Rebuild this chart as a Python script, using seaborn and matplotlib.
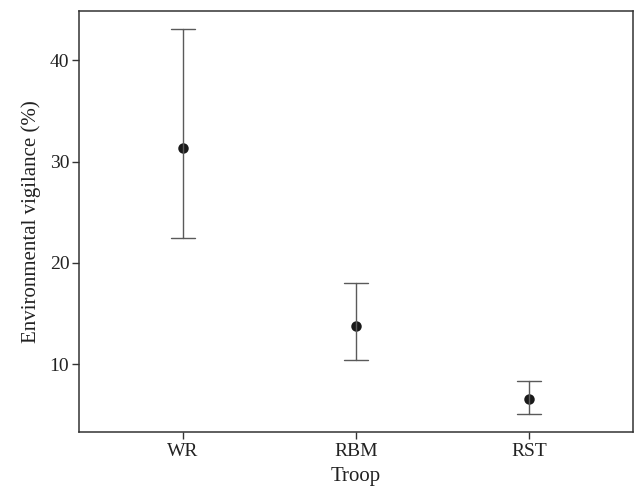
import matplotlib
matplotlib.use("Agg")
import matplotlib.pyplot as plt
import seaborn as sns
import pandas as pd

troops = ["WR", "RBM", "RST"]
means = [31.3, 13.75, 6.6]
lower = [22.5, 10.45, 5.1]
upper = [43.05, 18.0, 8.3]

rows = []
for t, lo, m, hi in zip(troops, lower, means, upper):
    for v in (lo, m, hi):
        rows.append({"Troop": t, "value": v})
df = pd.DataFrame(rows)

sns.set_theme(style="white")
plt.rcParams["font.family"] = ["Liberation Serif", "DejaVu Serif"]

fig = plt.figure(figsize=(6.35, 4.86), dpi=100)
ax = fig.add_axes([0.1244, 0.111, 0.8725, 0.866])

sns.pointplot(data=df, x="Troop", y="value", order=troops,
              estimator="median", errorbar=lambda v: (v.min(), v.max()),
              linestyle="none", color="#1a1a1a", markersize=5.5,
              capsize=0.14, err_kws={"color": "#5a5a5a", "linewidth": 1.0},
              ax=ax)

ax.set_xlim(-0.6, 2.6)
ax.set_ylim(3.3, 44.85)
ax.set_yticks([10, 20, 30, 40])
ax.set_xlabel("Troop", fontsize=15, color="#222222", labelpad=5)
ax.set_ylabel("Environmental vigilance (%)", fontsize=15, color="#222222", labelpad=6)
ax.tick_params(axis="both", labelsize=14, labelcolor="#222222", direction="out",
               length=5, width=1.0, color="#333333", left=True, bottom=True)
ax.tick_params(axis="y", pad=2)
ax.tick_params(axis="x", pad=3)
for s in ax.spines.values():
    s.set_color("#333333")
    s.set_linewidth(1.1)
    s.set_visible(True)

fig.savefig("out.png", dpi=100)
